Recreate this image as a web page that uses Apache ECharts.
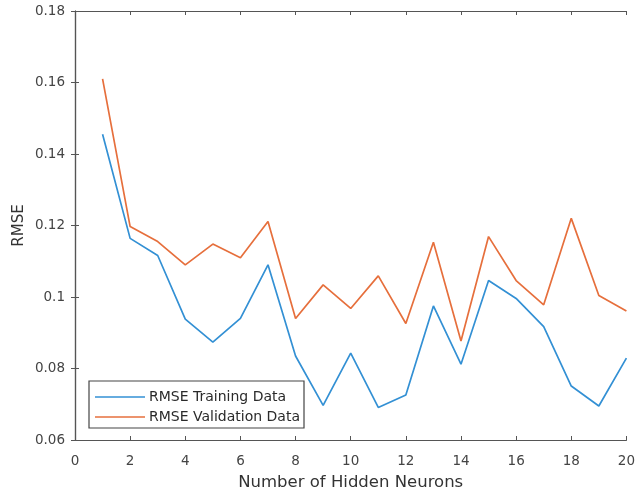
<!DOCTYPE html>
<html><head><meta charset="utf-8">
<script src="https://cdn.jsdelivr.net/npm/echarts@6/dist/echarts.min.js"></script>
<style>html,body{margin:0;padding:0;background:#fff}#c{width:638px;height:497px}</style>
</head><body><div id="c"></div>
<script>
const neurons = [1,2,3,4,5,6,7,8,9,10,11,12,13,14,15,16,17,18,19,20];
const rmseTraining = [0.1455,0.1164,0.1116,0.0938,0.0874,0.0940,0.1090,0.0835,0.0697,0.0843,0.0691,0.0726,0.0975,0.0812,0.1046,0.0996,0.0917,0.0751,0.0695,0.0829];
const rmseValidation = [0.1610,0.1197,0.1155,0.1090,0.1148,0.1110,0.1211,0.0940,0.1034,0.0968,0.1059,0.0926,0.1153,0.0877,0.1169,0.1046,0.0978,0.1220,0.1004,0.0961];
const seriesNames = ['RMSE Training Data','RMSE Validation Data'];
const xTitle = 'Number of Hidden Neurons';
const yTitle = 'RMSE';

const font = 'DejaVu Sans, sans-serif';
const axisCol = '#555555';
const blue = '#3390d4', orange = '#e66f3c';
const chart = echarts.init(document.getElementById('c'));
const mirrorAxis = {
  axisLine:{show:true,lineStyle:{color:axisCol,width:1.2}},
  axisTick:{show:true,inside:true,length:4,lineStyle:{color:axisCol}},
  axisLabel:{show:false}, splitLine:{show:false}
};
chart.setOption({
  animation:false,
  grid:{left:75,right:11,top:11,bottom:57},
  legend:{
    orient:'vertical', left:89, top:381,
    data:seriesNames,
    icon:'rect',
    itemWidth:50, itemHeight:1.5, itemGap:6,
    padding:[9,4,4,6],
    borderColor:'#444', borderWidth:1.2, backgroundColor:'#fff',
    textStyle:{fontFamily:font,fontSize:14,color:'#2a2a2a',padding:[0,0,0,-1]}
  },
  xAxis:[{
    type:'value', min:0, max:20, interval:2,
    name:xTitle, nameLocation:'middle', nameGap:34,
    nameTextStyle:{fontFamily:font,fontSize:16.5,color:'#333'},
    axisLine:{show:true,lineStyle:{color:axisCol,width:1.2}},
    axisTick:{show:true,inside:true,length:4,lineStyle:{color:axisCol}},
    axisLabel:{fontFamily:font,fontSize:13.5,color:'#444',margin:14},
    splitLine:{show:false}
  },Object.assign({type:'value',position:'top',min:0,max:20,interval:2},mirrorAxis)],
  yAxis:[{
    type:'value', min:0.06, max:0.18, interval:0.02,
    name:yTitle, nameLocation:'middle', nameGap:48, nameRotate:90,
    nameMoveOverlap:false,
    nameTextStyle:{fontFamily:font,fontSize:15,color:'#333'},
    axisLine:{show:true,lineStyle:{color:axisCol,width:1.2}},
    axisTick:{show:true,inside:true,length:4,lineStyle:{color:axisCol}},
    axisLabel:{fontFamily:font,fontSize:13.5,color:'#444',margin:10,
      formatter:v=>String(+(+v).toFixed(2))},
    splitLine:{show:false}
  },Object.assign({type:'value',position:'right',min:0.06,max:0.18,interval:0.02},mirrorAxis)],
  series:[
    {name:seriesNames[0],type:'line',symbol:'none',
     data:neurons.map((n,i)=>[n,rmseTraining[i]]),
     lineStyle:{color:blue,width:1.7},itemStyle:{color:blue}},
    {name:seriesNames[1],type:'line',symbol:'none',
     data:neurons.map((n,i)=>[n,rmseValidation[i]]),
     lineStyle:{color:orange,width:1.7},itemStyle:{color:orange}}
  ]
});
</script></body></html>
